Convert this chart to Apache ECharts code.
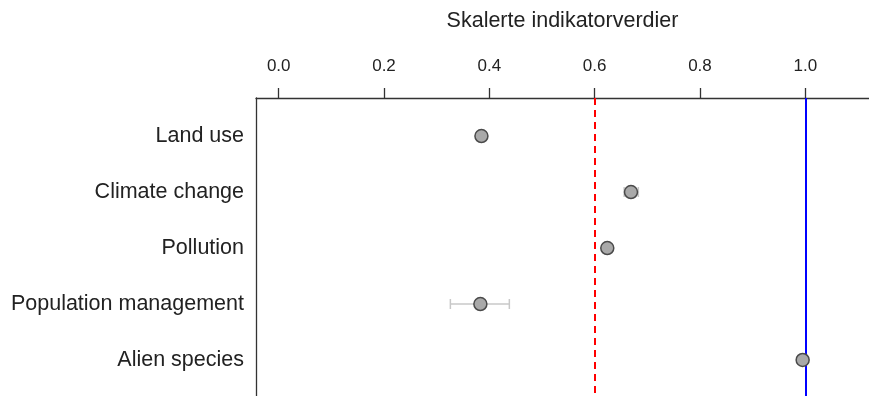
<!DOCTYPE html>
<html><head><meta charset="utf-8">
<script src="https://cdn.jsdelivr.net/npm/echarts@6/dist/echarts.min.js"></script>
<style>html,body{margin:0;padding:0;background:#fff}#c{width:869px;height:396px}</style>
</head><body><div id="c"></div>
<script>
const categories = ["Land use", "Climate change", "Pollution", "Population management", "Alien species"];
const values = [0.385, 0.669, 0.624, 0.383, 0.995];
const lower = [0.380, 0.656, 0.620, 0.326, 0.992];
const upper = [0.390, 0.683, 0.628, 0.438, 0.998];
const xTicks = [0.0, 0.2, 0.4, 0.6, 0.8, 1.0];
const refRed = 0.6;
const refBlue = 1.0;
const axisTitle = "Skalerte indikatorverdier";

const chart = echarts.init(document.getElementById('c'), null, {renderer: 'canvas'});
const font = "'Liberation Sans', Arial, sans-serif";
chart.setOption({
  animation: false,
  backgroundColor: '#ffffff',
  grid: {left: 256, top: 98, right: 0, bottom: 0, containLabel: false},
  xAxis: {
    type: 'value', position: 'top', min: -0.0431, max: 1.121,
    name: axisTitle, nameLocation: 'middle', nameGap: 66,
    nameTextStyle: {fontFamily: font, fontSize: 21.5, color: '#222'},
    axisLine: {show: true, onZero: false, lineStyle: {color: '#333', width: 1.3}},
    axisTick: {show: true, length: 10, inside: false, customValues: xTicks, lineStyle: {color: '#333', width: 1.3}},
    axisLabel: {customValues: xTicks, margin: 23, fontFamily: font, fontSize: 17, color: '#222',
      formatter: v => Number(v).toFixed(1)},
    splitLine: {show: false}
  },
  yAxis: {
    type: 'value', inverse: true, min: 0.321, max: 5.643,
    axisLine: {show: true, onZero: false, lineStyle: {color: '#333', width: 1.3}},
    axisTick: {show: false},
    axisLabel: {customValues: [1, 2, 3, 4, 5], margin: 12, fontFamily: font, fontSize: 21.5, color: '#222',
      formatter: v => categories[Math.round(v) - 1] || ''},
    splitLine: {show: false}
  },
  series: [
    {
      type: 'custom',
      data: categories.map((c, i) => [lower[i], upper[i], i + 1]),
      renderItem: function (params, api) {
        const y = api.value(2);
        const p1 = api.coord([api.value(0), y]);
        const p2 = api.coord([api.value(1), y]);
        const h = 5;
        const st = {stroke: '#c8c8c8', lineWidth: 1.5};
        return {type: 'group', children: [
          {type: 'line', shape: {x1: p1[0], y1: p1[1], x2: p2[0], y2: p2[1]}, style: st},
          {type: 'line', shape: {x1: p1[0], y1: p1[1] - h, x2: p1[0], y2: p1[1] + h}, style: st},
          {type: 'line', shape: {x1: p2[0], y1: p2[1] - h, x2: p2[0], y2: p2[1] + h}, style: st}
        ]};
      },
      z: 2
    },
    {
      type: 'scatter',
      data: values.map((v, i) => [v, i + 1]),
      symbol: 'circle', symbolSize: 13,
      itemStyle: {color: '#a9a9a9', borderColor: '#4a4a4a', borderWidth: 1.5, opacity: 1},
      z: 5,
      markLine: {
        silent: true, symbol: ['none', 'none'], label: {show: false},
        data: [
          {xAxis: refRed, lineStyle: {color: '#ff0000', type: [7, 5], width: 2}},
          {xAxis: refBlue, lineStyle: {color: '#0000ff', type: 'solid', width: 2}}
        ],
        z: 3
      }
    }
  ]
});
</script></body></html>
